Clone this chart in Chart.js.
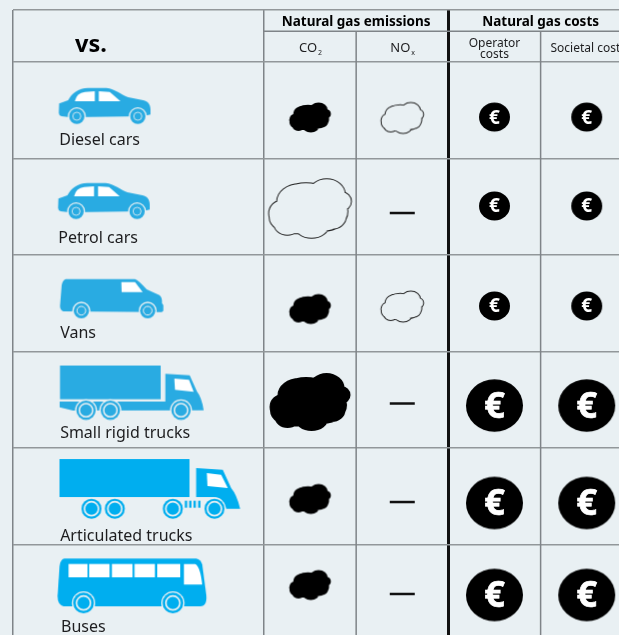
<!DOCTYPE html>
<html>
<head>
<meta charset="utf-8">
<script src="https://cdn.jsdelivr.net/npm/chart.js@4"></script>
<style>html,body{margin:0;padding:0;background:#e9f0f3;overflow:hidden}canvas{display:block}</style>
</head>
<body>
<canvas id="c" width="619" height="635"></canvas>
<script>
// ---- data ----
const categories = ['Diesel cars','Petrol cars','Vans','Small rigid trucks','Articulated trucks','Buses'];
const vehicleTypes = ['car','car','van','truck','artic','bus'];
// size of natural gas effect: positive = saving (filled), negative = increase (outline), 0 = no difference
const co2Values = [1,-2,1,2,1,1];
const noxValues = [-1,0,-1,0,0,0];
const operatorCosts = [1,1,1,2,2,2];
const societalCosts = [1,1,1,2,2,2];
const groupHeaders = ['Natural gas emissions','Natural gas costs'];

// ---- layout, in scale units ----
const colX = [0.5,1.5,2.5,3.5];
const co2Y = [.575,1.518,2.560,3.523,4.528,5.420];
const noxY = [.580,1.565,2.534,3.539,4.560,5.513];
const costY = [.570,1.492,2.528,3.560,4.570,5.523];
const vehicleX = [-1.724,-1.732,-1.651,-1.429,-1.236,-1.428];
const vehicleY = [.458,1.443,2.449,3.425,4.425,5.433];
const labelX = [-2.22,-2.23,-2.21,-2.21,-2.21,-2.2];
const labelY = [.86,1.876,2.86,3.896,4.964,5.907];
const X_MIN = -2.721, X_MAX = 3.85, Y_MIN = -0.539, Y_SUB = -0.32, Y_MAX = 5.938;
const fullX = [X_MIN,0,2], fullY = [Y_MIN,0,1,2,3,4,5];
const GRID_V = '#7f8488', GRID_H = '#92979a';
const BG = '#e9f0f3';
const FONT = '"Noto Sans", sans-serif';
const INK = '#1d1d1f';

// ---- pictograms ----
function art(x0,y0,x1,y1,fn){
  const c=document.createElement('canvas');
  c.width=Math.ceil((x1-x0)/3);c.height=Math.ceil((y1-y0)/3);
  const g=c.getContext('2d');g.scale(1/3,1/3);g.translate(-x0,-y0);fn(g);return c;
}
function poly(g,p,col){g.fillStyle=col;g.beginPath();p.forEach((q,i)=>i?g.lineTo(q[0],q[1]):g.moveTo(q[0],q[1]));g.closePath();g.fill();}
function wheel(g,x,y,R,blue,inner,lw){
  g.fillStyle=BG;g.beginPath();g.arc(x,y,R+4,0,7);g.fill();
  g.fillStyle=blue;g.beginPath();g.arc(x,y,R,0,7);g.fill();
  g.strokeStyle=BG;g.lineWidth=lw;g.beginPath();g.arc(x,y,inner,0,7);g.stroke();
}
const B1='#29abe2',B2='#00aeef',W='#ffffff';
const icons={
 car:art(173,260,458,378,g=>{
  g.fillStyle=B1;g.beginPath();g.moveTo(178,312);g.lineTo(205,302);g.bezierCurveTo(215,282,235,265,265,265);g.lineTo(320,265);
  g.bezierCurveTo(345,268,365,285,385,293);g.lineTo(430,302);g.bezierCurveTo(445,305,452,315,452,330);g.lineTo(452,345);g.lineTo(430,350);
  g.lineTo(210,353);g.lineTo(185,350);g.quadraticCurveTo(177,348,177,340);g.closePath();g.fill();
  g.fillStyle=W;g.beginPath();g.moveTo(225,305);g.quadraticCurveTo(230,280,255,277);g.lineTo(285,275);g.lineTo(285,305);g.closePath();g.fill();
  poly(g,[[297,275],[330,277],[362,305],[297,305]],W);
  wheel(g,231,350,23,B1,12,2.5);wheel(g,414,350,23,B1,12,2.5);
 }),
 van:art(176,52,494,178,g=>{
  g.fillStyle=B1;g.beginPath();g.moveTo(197,57);g.lineTo(405,57);g.quadraticCurveTo(415,60,440,88);g.lineTo(478,105);g.quadraticCurveTo(487,110,486,130);
  g.lineTo(490,135);g.lineTo(490,150);g.quadraticCurveTo(490,156,480,156);g.lineTo(190,154);g.quadraticCurveTo(180,150,180,138);g.lineTo(185,75);g.quadraticCurveTo(188,60,197,57);g.closePath();g.fill();
  poly(g,[[364,66],[405,66],[428,96],[365,96]],W);
  wheel(g,244,152,23,B1,13,3);wheel(g,443,152,23,B1,13,3);
 }),
 truck:art(177,314,616,482,g=>{
  g.fillStyle=B1;g.fillRect(181,317,302,101);
  g.beginPath();g.moveTo(180,425);g.lineTo(497,425);g.lineTo(497,342);g.lineTo(570,346);g.lineTo(592,395);g.quadraticCurveTo(606,412,612,451);g.lineTo(220,452);g.lineTo(180,442);g.closePath();g.fill();
  poly(g,[[524,356],[568,360],[582,396],[526,390]],W);
  wheel(g,259,451,29,B1,20,4.5);wheel(g,332,451,29,B1,20,4.5);wheel(g,544,451,29,B1,20,4.5);
 }),
 artic:art(177,40,724,226,g=>{
  g.fillStyle=B2;g.fillRect(180,43,390,114);
  g.beginPath();g.moveTo(590,70);g.lineTo(670,75);g.lineTo(695,130);g.quadraticCurveTo(712,150,722,192);g.lineTo(680,192);g.quadraticCurveTo(670,160,645,157);g.lineTo(590,157);g.closePath();g.fill();
  poly(g,[[622,85],[665,90],[685,130],[624,124]],W);
  wheel(g,276,192,30,B2,21,5);wheel(g,346,192,30,B2,21,5);wheel(g,520,192,30,B2,21,5);wheel(g,645,192,30,B2,21,5);
  g.fillStyle=B2;[556,569,582,596].forEach(x=>g.fillRect(x,168,7,21));
 }),
 bus:art(168,338,624,510,g=>{
  g.fillStyle=B2;g.beginPath();g.moveTo(192,342);g.lineTo(588,342);g.quadraticCurveTo(602,345,606,360);g.lineTo(618,450);g.quadraticCurveTo(622,485,600,485);g.lineTo(190,485);g.quadraticCurveTo(172,480,172,455);g.lineTo(178,365);g.quadraticCurveTo(180,345,192,342);g.closePath();g.fill();
  g.fillStyle=W;[[205,262],[267,328],[335,397],[403,464],[471,540]].forEach(r=>g.fillRect(r[0],358,r[1]-r[0],40));
  g.beginPath();g.moveTo(551,358);g.lineTo(585,358);g.quadraticCurveTo(600,365,606,420);g.lineTo(551,420);g.closePath();g.fill();
  wheel(g,250,475,31,B2,21,5);wheel(g,518,475,31,B2,21,5);
 })
};
const lobes=[[-27.5,5,13,13],[-10.5,-7,22,17],[16.5,-14,18,15],[31.5,-7,9,9],[21.5,8,14,12],[1.5,16,17,13],[-22.5,15,13,11],[-.5,1,25,20],[-16,9,24,15.5],[13,3,24,19],[-4,-9,26,16]];
function cloud(s,filled){
  const c=document.createElement('canvas');c.width=Math.ceil(90*s)+6;c.height=Math.ceil(64*s)+6;
  const g=c.getContext('2d');g.translate(c.width/2,c.height/2);
  const path=()=>{g.beginPath();lobes.forEach(l=>{g.moveTo(l[0]*s+l[2]*s,l[1]*s);g.ellipse(l[0]*s,l[1]*s,l[2]*s,l[3]*s,0,0,Math.PI*2);});};
  g.fillStyle='#000';g.strokeStyle='#222';g.lineWidth=2;
  if(filled){path();g.fill();}
  else{path();g.stroke();g.globalCompositeOperation='destination-out';path();g.fill();g.globalCompositeOperation='source-over';}
  return c;
}
const cloudStyle={'1':cloud(.515,true),'2':cloud(1,true),'-1':cloud(.515,false),'-2':cloud(1.01,false)};
const markStyle=v=>v===0?'line':cloudStyle[String(v)];
function coin(rx,ry){
  const c=document.createElement('canvas');c.width=Math.ceil(rx*2)+2;c.height=Math.ceil(ry*2)+2;
  const g=c.getContext('2d');g.fillStyle='#000';g.beginPath();g.ellipse(c.width/2,c.height/2,rx,ry,0,0,Math.PI*2);g.fill();return c;
}
const coinStyle={1:coin(15.5,14.6),2:coin(28.5,26.3)};

// ---- datasets ----
const pts=(xs,ys,vals)=>vals.map((v,i)=>({x:Array.isArray(xs)?xs[i]:xs,y:ys[i],v}));
const rule=(a,b)=>({type:'scatter',showLine:true,data:[a,b],borderColor:GRID_V,borderWidth:1.5,pointRadius:0});
const datasets=[
 rule({x:0,y:Y_SUB},{x:X_MAX,y:Y_SUB}),
 rule({x:1,y:Y_SUB},{x:1,y:Y_MAX}),
 rule({x:3,y:Y_SUB},{x:3,y:Y_MAX}),
 {label:'Vehicles',data:pts(vehicleX,vehicleY,vehicleTypes),pointStyle:vehicleTypes.map(t=>icons[t]),pointRadius:5},
 {label:'CO2',data:pts(colX[0],co2Y,co2Values),pointStyle:co2Values.map(markStyle),pointRadius:5},
 {label:'NOx',data:pts(colX[1],noxY,noxValues),pointStyle:noxValues.map(markStyle),
  pointRadius:noxValues.map(v=>v===0?12.5:5),pointBorderColor:'#111',pointBorderWidth:2.5},
 {label:'Operator costs',data:pts(colX[2],costY,operatorCosts),pointStyle:operatorCosts.map(v=>coinStyle[v]),pointRadius:5},
 {label:'Societal costs',data:pts(colX[3],costY,societalCosts),pointStyle:societalCosts.map(v=>coinStyle[v]),pointRadius:5}
];

// ---- text ----
const textPlugin={id:'tableText',afterDatasetsDraw(chart){
  const g=chart.ctx,sx=chart.scales.x,sy=chart.scales.y;
  const put=(t,x,y,font,col,align)=>{g.font=font;g.fillStyle=col||INK;g.textAlign=align||'left';g.textBaseline='alphabetic';g.fillText(t,x,y);};
  g.save();
  // euro signs on the coins
  [6,7].forEach(d=>{chart.getDatasetMeta(d).data.forEach((p,i)=>{
    const big=operatorCosts[i]===2;
    put('€',p.x,p.y+(big?12.5:6.5),'bold '+(big?36:19)+'px '+FONT,'#fff','center');
    if(big){g.strokeStyle='#fff';g.lineWidth=.7;g.strokeText('€',p.x,p.y+12.5);}
  });});
  categories.forEach((c,i)=>put(c,sx.getPixelForValue(labelX[i]),sy.getPixelForValue(labelY[i]),'16px '+FONT,INK));
  put('vs.',75,52,'bold 23.5px '+FONT,'#000');
  put(groupHeaders[0],sx.getPixelForValue(1),26,'bold 13.5px '+FONT,'#000','center');
  put(groupHeaders[1],sx.getPixelForValue(3),26,'bold 13.5px '+FONT,'#000','center');
  const sub=(a,b,cx)=>{g.font='13px '+FONT;const w=g.measureText(a).width;const x=cx-(w+4)/2;
    put(a,x,52,'13px '+FONT,INK);put(b,x+w+1,55,'7px '+FONT,INK);};
  sub('CO','2',sx.getPixelForValue(colX[0]));
  sub('NO','x',sx.getPixelForValue(colX[1]));
  put('Operator',sx.getPixelForValue(colX[2]),47,'12px '+FONT,INK,'center');
  put('costs',sx.getPixelForValue(colX[2]),58,'12px '+FONT,INK,'center');
  put('Societal costs',sx.getPixelForValue(colX[3])+1.5,52,'12px '+FONT,INK,'center');
  g.restore();
}};

new Chart(document.getElementById('c'),{
  type:'scatter',
  data:{datasets},
  plugins:[textPlugin],
  options:{
    responsive:false,animation:false,events:[],
    layout:{autoPadding:false,padding:{left:13,top:10,right:0,bottom:0}},
    plugins:{legend:{display:false},tooltip:{enabled:false}},
    scales:{
      x:{type:'linear',min:X_MIN,max:X_MAX,
        afterBuildTicks:s=>{s.ticks=fullX.map(value=>({value}));},
        ticks:{display:false},border:{display:false},
        grid:{drawTicks:false,color:c=>c.tick&&c.tick.value===2?'#111':GRID_V,lineWidth:c=>c.tick&&c.tick.value===2?3:1.5}},
      y:{type:'linear',reverse:true,min:Y_MIN,max:Y_MAX,
        afterBuildTicks:s=>{s.ticks=fullY.map(value=>({value}));},
        ticks:{display:false},border:{display:false},
        grid:{drawTicks:false,color:GRID_H,lineWidth:1.5}}
    }
  }
});
</script>
</body>
</html>
